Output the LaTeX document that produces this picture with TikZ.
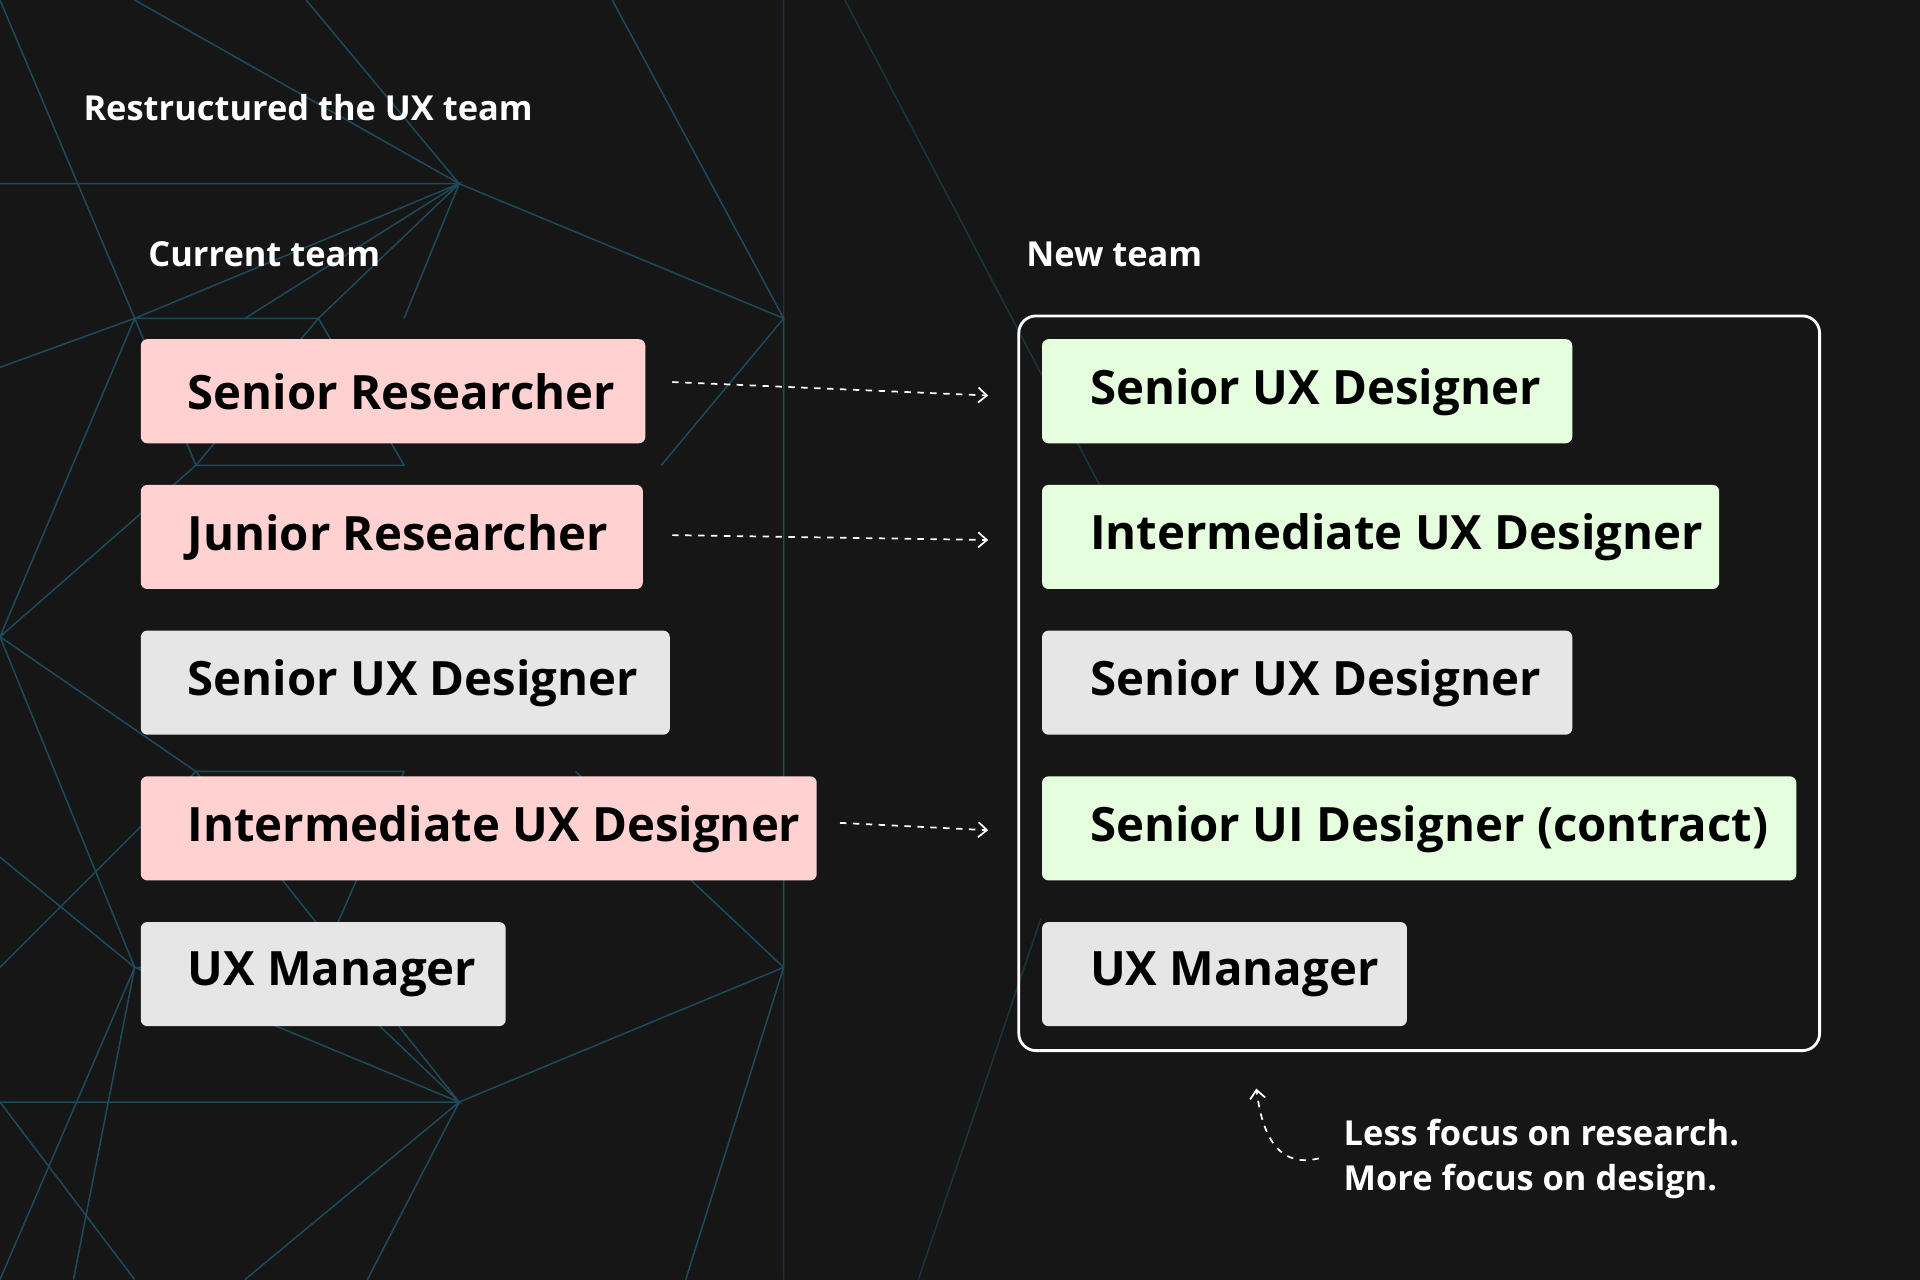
\documentclass[tikz,border=0pt]{standalone}
\usepackage{fontspec}
\setmainfont{Open Sans}
\usetikzlibrary{arrows.meta}
\definecolor{bg}{HTML}{161616}
\definecolor{net}{HTML}{1E4A5C}
\definecolor{pinkb}{HTML}{FFD1D1}
\definecolor{greenb}{HTML}{E5FFDE}
\definecolor{grayb}{HTML}{E6E6E6}
\begin{document}
\begin{tikzpicture}[x=0.02cm,y=-0.02cm,
  lbl/.style={anchor=west,font=\fontsize{22}{26}\selectfont\bfseries,text=black},
  hdr/.style={anchor=west,text=white,font=\fontsize{16}{19}\selectfont\bfseries},
  darr/.style={white,dashed,line width=0.8pt,-{Straight Barb[length=4pt,width=7pt]}}]
\useasboundingbox (0,0) rectangle (1568,1045);
\fill[bg] (0,0) rectangle (1568,1045);
% network background
\begin{scope}[net,line width=0.7pt]
\draw (0,150)--(375,150)--(640,260)--(640,790)--(375,900)--(0,900);
\draw (110,260)--(375,150)--(260,260)--(110,260)--(0,300);
\draw (375,150)--(110,0) (375,150)--(250,0) (375,150)--(330,260) (375,150)--(200,260);
\draw (0,520)--(110,260)--(160,380)--(0,520)--(160,630)--(0,790);
\draw (0,520)--(110,790)--(375,900)--(260,790)--(110,790);
\draw (375,900)--(200,1045) (375,900)--(300,1045) (375,900)--(160,630);
\draw (640,260)--(500,0) (640,260)--(540,380) (640,790)--(560,1045) (640,790)--(470,630);
\draw (0,0)--(110,260) (0,1045)--(110,790) (0,900)--(110,1045);
\draw[opacity=.6] (640,0)--(640,1045) (690,0)--(900,400) (750,1045)--(850,750);
\draw (260,260)--(160,380)--(330,380)--(260,260);
\draw (160,630)--(330,630)--(260,790);
\draw (0,700)--(110,790)--(60,1045);
\end{scope}
% texts
\node[hdr] (title) at (62,88) {Restructured the UX team};
\node[hdr] (cur) at (115,208) {Current team};
\node[hdr] (new) at (832,208) {New team};
% left boxes
\path[fill=pinkb,rounded corners=3pt] (115,277) rectangle (527,362);
\node[lbl] (l1) at (147,320) {Senior Researcher};
\path[fill=pinkb,rounded corners=3pt] (115,396) rectangle (525,481);
\node[lbl] (l2) at (147,439) {Junior Researcher};
\path[fill=grayb,rounded corners=3pt] (115,515) rectangle (547,600);
\node[lbl] (l3) at (147,558) {Senior UX Designer};
\path[fill=pinkb,rounded corners=3pt] (115,634) rectangle (667,719);
\node[lbl] (l4) at (147,677) {Intermediate UX Designer};
\path[fill=grayb,rounded corners=3pt] (115,753) rectangle (413,838);
\node[lbl] (l5) at (147,796) {UX Manager};
% frame
\draw[white,line width=1.3pt,rounded corners=8pt] (832,258) rectangle (1486,858);
% right boxes
\path[fill=greenb,rounded corners=3pt] (851,277) rectangle (1284,362);
\node[lbl] (r1) at (884,320) {Senior UX Designer};
\path[fill=greenb,rounded corners=3pt] (851,396) rectangle (1404,481);
\node[lbl] (r2) at (884,439) {Intermediate UX Designer};
\path[fill=grayb,rounded corners=3pt] (851,515) rectangle (1284,600);
\node[lbl] (r3) at (884,558) {Senior UX Designer};
\path[fill=greenb,rounded corners=3pt] (851,634) rectangle (1467,719);
\node[lbl] (r4) at (884,677) {Senior UI Designer (contract)};
\path[fill=grayb,rounded corners=3pt] (851,753) rectangle (1149,838);
\node[lbl] (r5) at (884,796) {UX Manager};
% arrows
\coordinate (a1s) at (549,312); \coordinate (a1e) at (807,323);
\coordinate (a2s) at (549,437); \coordinate (a2e) at (807,441);
\coordinate (a3s) at (686,672); \coordinate (a3e) at (807,678);
\draw[darr] (a1s)--(a1e);
\draw[darr] (a2s)--(a2e);
\draw[darr] (a3s)--(a3e);
\coordinate (cs) at (1077,946); \coordinate (ce) at (1026,889);
\draw[darr] (cs) .. controls (1040,955) and (1030,920) .. (ce);
\node[anchor=north west,text=white,align=left,font=\fontsize{16}{20.5}\selectfont\bfseries,inner sep=0pt] (note) at (1097,914) {Less focus on research.\\More focus on design.};
\end{tikzpicture}
\end{document}
